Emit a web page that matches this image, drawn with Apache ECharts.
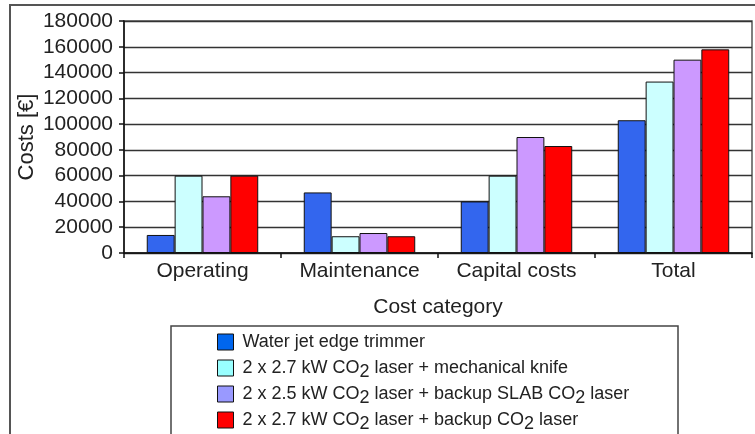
<!DOCTYPE html>
<html>
<head>
<meta charset="utf-8">
<title>Costs by cost category</title>
<script src="https://cdn.jsdelivr.net/npm/echarts@6/dist/echarts.min.js"></script>
<style>
  html, body { margin: 0; padding: 0; background: #ffffff; }
  #chart { width: 755px; height: 434px; }
</style>
</head>
<body>
<div id="chart"></div>
<script>
// Cost categories on the x axis
const categories = ['Operating', 'Maintenance', 'Capital costs', 'Total'];

// Machine configurations (legend entries)
const seriesNames = [
  'Water jet edge trimmer',
  '2 x 2.7 kW CO₂ laser + mechanical knife',
  '2 x 2.5 kW CO₂ laser + backup SLAB CO₂ laser',
  '2 x 2.7 kW CO₂ laser + backup CO₂ laser'
];

// Costs in € per configuration, one value per category
const waterJet      = [14000, 47000, 40000, 103000];
const laserKnife    = [60000, 13000, 60000, 133000];
const laserSlab     = [44000, 15500, 90000, 150000];
const laserBackup   = [60000, 13000, 83000, 158000];

// Y axis ticks
const yTicks = [0, 20000, 40000, 60000, 80000, 100000, 120000, 140000, 160000, 180000];

const barColors    = ['#3366ee', '#ccffff', '#cc99ff', '#ff0000'];
const legendColors = ['#0066ee', '#99ffff', '#9999ff', '#ff0000'];
const FONT = '"Liberation Sans", Arial, sans-serif';

const values = [waterJet, laserKnife, laserSlab, laserBackup];

const chart = echarts.init(document.getElementById('chart'), null, { renderer: 'canvas' });

chart.setOption({
  animation: false,
  backgroundColor: '#ffffff',
  textStyle: { fontFamily: FONT, color: '#222' },
  grid: {
    left: 124, right: 3, top: 21, bottom: 181,
    show: true, borderColor: '#555', borderWidth: 1.5, backgroundColor: 'transparent'
  },
  xAxis: {
    type: 'category',
    data: categories,
    name: 'Cost category',
    nameLocation: 'middle',
    nameGap: 44,
    nameMoveOverlap: false,
    nameTextStyle: { fontSize: 21, color: '#222', fontFamily: FONT },
    axisLine: { lineStyle: { color: '#111', width: 1.5 } },
    axisTick: { show: true, length: 5, lineStyle: { color: '#111', width: 1.5 } },
    axisLabel: { interval: 0, fontSize: 21, color: '#222', margin: 8, fontFamily: FONT }
  },
  yAxis: {
    type: 'value',
    min: yTicks[0],
    max: yTicks[yTicks.length - 1],
    interval: yTicks[1] - yTicks[0],
    name: 'Costs [€]',
    nameLocation: 'middle',
    nameGap: 86,
    nameMoveOverlap: false,
    nameTextStyle: { fontSize: 22, color: '#222', fontFamily: FONT },
    axisLine: { show: true, lineStyle: { color: '#111', width: 1.5 } },
    axisTick: { show: true, length: 5, lineStyle: { color: '#111', width: 1.5 } },
    axisLabel: {
      fontSize: 21, color: '#222', margin: 11, fontFamily: FONT,
      formatter: v => String(v)
    },
    splitLine: { lineStyle: { color: '#333', width: 1.3 } }
  },
  legend: {
    orient: 'vertical',
    left: 217,
    top: 329,
    height: 120,
    padding: 0,
    itemWidth: 16,
    itemHeight: 16,
    itemGap: 0,
    icon: 'rect',
    data: seriesNames.map((n, i) => ({
      name: n,
      itemStyle: { color: legendColors[i], borderColor: '#111', borderWidth: 1 }
    })),
    formatter: name => name.replace(/CO₂/g, 'CO{sub|2}'),
    textStyle: {
      fontSize: 18, color: '#222', fontFamily: FONT,
      lineHeight: 26, padding: [0, 0, 0, 4],
      rich: {
        sub: { fontSize: 18, color: '#222', fontFamily: FONT, lineHeight: 16, verticalAlign: 'bottom' }
      }
    }
  },
  graphic: [
    // outer chart frame
    { type: 'polyline', silent: true, z: 10,
      shape: { points: [[10, 440], [10, 5], [760, 5]] },
      style: { stroke: '#555', lineWidth: 2, fill: null } },
    // legend frame
    { type: 'polyline', silent: true, z: 10,
      shape: { points: [[171, 440], [171, 326], [678, 326], [678, 440]] },
      style: { stroke: '#444', lineWidth: 1.5, fill: null } }
  ],
  series: seriesNames.map((n, i) => ({
    name: n,
    type: 'bar',
    data: values[i],
    barGap: '0%',
    barCategoryGap: '29%',
    itemStyle: { color: barColors[i], borderColor: '#111', borderWidth: 1 }
  }))
});
</script>
</body>
</html>
